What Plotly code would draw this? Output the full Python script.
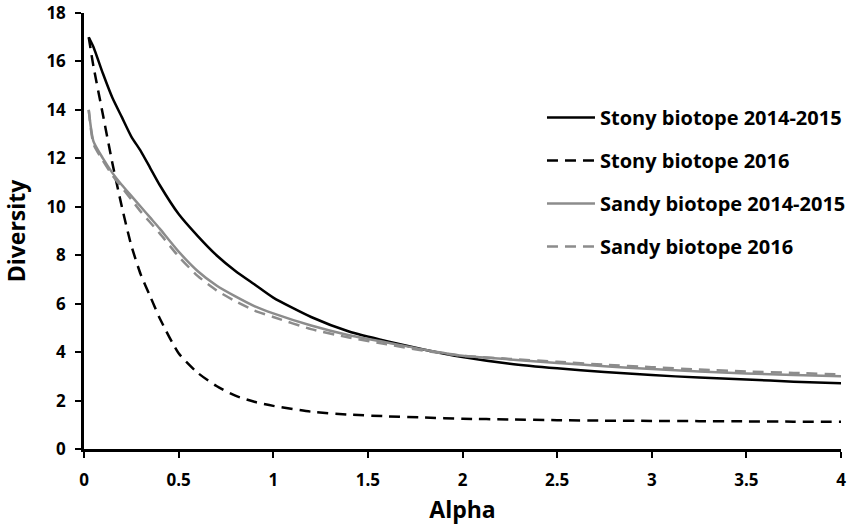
import plotly.graph_objects as go

alpha = [0.025, 0.05, 0.1, 0.15, 0.2, 0.25, 0.3, 0.35, 0.4, 0.5, 0.6, 0.7, 0.8, 0.9,
         1.0, 1.2, 1.4, 1.6, 1.8, 2.0, 2.25, 2.5, 2.75, 3.0, 3.25, 3.5, 3.75, 4.0]

stony_1415 = [17.0, 16.6, 15.5, 14.5, 13.7, 12.9, 12.3, 11.6, 10.9, 9.7, 8.8, 8.0, 7.35, 6.8,
              6.25, 5.45, 4.85, 4.45, 4.1, 3.8, 3.52, 3.33, 3.18, 3.05, 2.95, 2.87, 2.78, 2.71]
stony_2016 = [17.0, 15.8, 13.8, 11.8, 10.0, 8.4, 7.2, 6.3, 5.4, 3.95, 3.15, 2.6, 2.2, 1.95,
              1.78, 1.54, 1.42, 1.35, 1.3, 1.25, 1.22, 1.19, 1.17, 1.16, 1.15, 1.14, 1.13, 1.13]
sandy_1415 = [14.0, 12.7, 12.0, 11.4, 10.9, 10.45, 10.0, 9.55, 9.1, 8.15, 7.35, 6.75, 6.3, 5.9,
              5.6, 5.1, 4.7, 4.4, 4.1, 3.85, 3.7, 3.55, 3.42, 3.3, 3.2, 3.12, 3.05, 3.0]
sandy_2016 = [14.0, 12.6, 11.9, 11.3, 10.8, 10.3, 9.8, 9.35, 8.9, 7.95, 7.15, 6.55, 6.1, 5.72,
              5.45, 4.95, 4.6, 4.32, 4.05, 3.85, 3.72, 3.6, 3.48, 3.38, 3.28, 3.2, 3.14, 3.08]

names = ["Stony biotope 2014-2015", "Stony biotope 2016",
         "Sandy biotope 2014-2015", "Sandy biotope 2016"]
series = [stony_1415, stony_2016, sandy_1415, sandy_2016]
colors = ["#000000", "#000000", "#8c8c8c", "#8c8c8c"]
dashes = ["solid", "11px,7px", "solid", "11px,7px"]

FONT = "Open Sans"

fig = go.Figure()
for i, (nm, ys, c, d) in enumerate(zip(names, series, colors, dashes)):
    fig.add_trace(go.Scatter(
        x=alpha, y=ys, name=nm, mode="lines",
        line=dict(color=c, width=2.5, dash=d, shape="spline", smoothing=0.6),
        legendgroup=f"g{i}",
    ))

fig.update_layout(
    width=851, height=530,
    margin=dict(l=84, r=10, t=13, b=81, autoexpand=False),
    paper_bgcolor="white", plot_bgcolor="white",
    font=dict(family=FONT, color="#000000"),
    showlegend=True,
    legend=dict(
        x=0.605, y=0.805, xanchor="left", yanchor="top",
        font=dict(family=FONT, size=20, color="#000000", weight="bold"),
        traceorder="grouped", tracegroupgap=14,
        bgcolor="rgba(0,0,0,0)", itemwidth=48,
    ),
    xaxis=dict(
        range=[0, 4], tickvals=[0, 0.5, 1, 1.5, 2, 2.5, 3, 3.5, 4],
        ticktext=["0", "0.5", "1", "1.5", "2", "2.5", "3", "3.5", "4"],
        showline=True, linecolor="#000000", linewidth=2.5,
        ticks="outside", ticklen=6, tickwidth=2, tickcolor="#000000",
        ticklabelstandoff=8,
        showgrid=False, zeroline=False,
        tickfont=dict(family=FONT, size=17, color="#000000", weight="bold"),
        title=dict(text="Alpha", font=dict(family=FONT, size=23, color="#000000", weight="bold"),
                   standoff=12),
    ),
    yaxis=dict(
        range=[0, 18], tickvals=list(range(0, 19, 2)),
        showline=True, linecolor="#000000", linewidth=2.5,
        ticks="outside", ticklen=6, tickwidth=2, tickcolor="#000000",
        ticklabelstandoff=6,
        showgrid=False, zeroline=False,
        tickfont=dict(family=FONT, size=17, color="#000000", weight="bold"),
        title=dict(text="Diversity", font=dict(family=FONT, size=23, color="#000000", weight="bold"),
                   standoff=18),
    ),
)

fig.write_html("out.html")
